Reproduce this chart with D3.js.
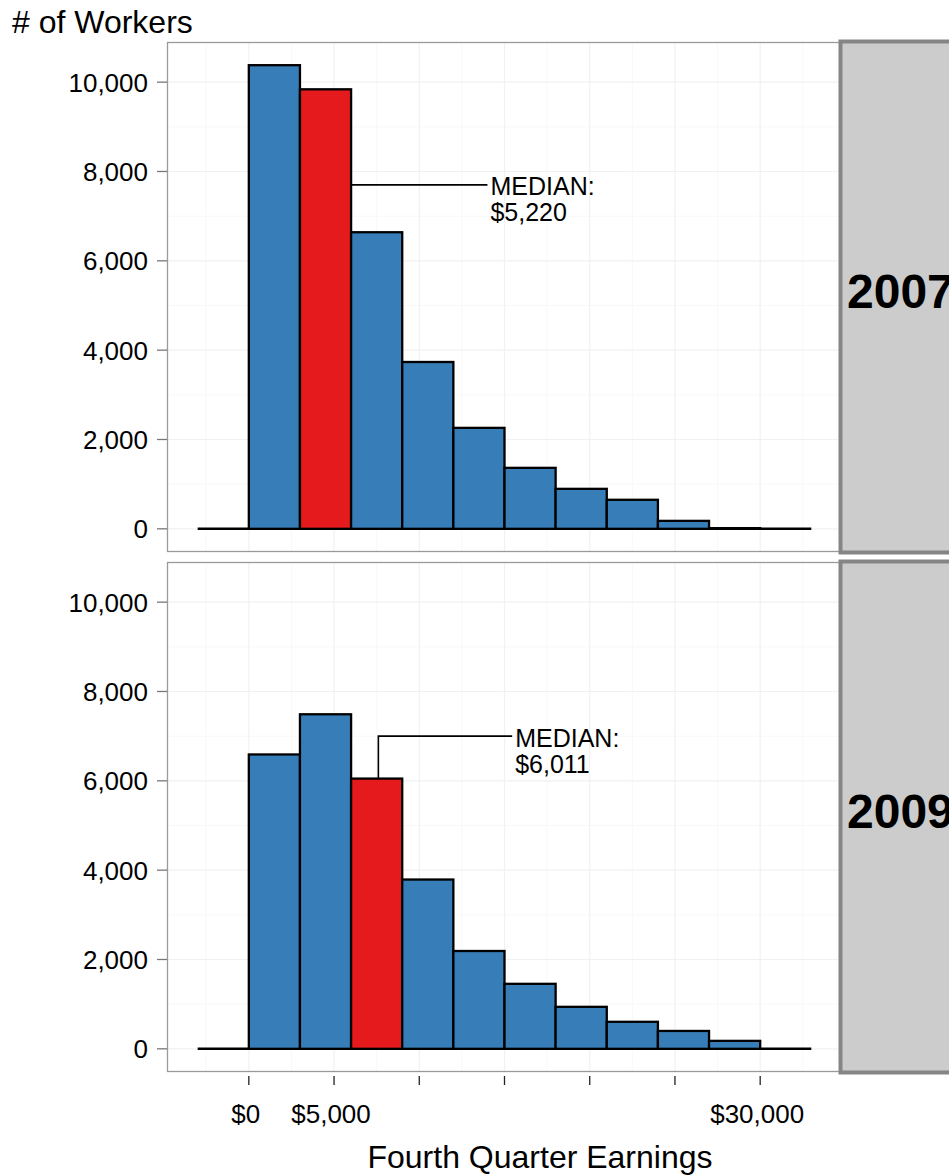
<!DOCTYPE html>
<html>
<head>
<meta charset="utf-8">
<script src="https://cdn.jsdelivr.net/npm/d3@7"></script>
<style>
  html, body { margin: 0; padding: 0; background: #fff; }
  svg { display: block; font-family: "Liberation Sans", Arial, sans-serif; }
</style>
</head>
<body>
<svg id="chart" width="949" height="1175"></svg>
<script>
// ---- data ----
const years = ["2007", "2009"];
const binStarts = [-3000, 0, 3000, 6000, 9000, 12000, 15000, 18000, 21000, 24000, 27000, 30000];
const binWidth = 3000;
const counts2007 = [0, 10380, 9840, 6640, 3735, 2260, 1365, 895, 650, 178, 15, 0];
const counts2009 = [0, 6590, 7490, 6050, 3790, 2190, 1455, 940, 605, 400, 178, 0];
const medianBin = [2, 3];
const medianLabels = ["$5,220", "$6,011"];
// annotation leader paths in data units [earnings, workers]
const leader2007 = [[6000, 7700], [14000, 7700]];
const leader2009 = [[7600, 6050], [7600, 7000], [15450, 7000]];
const xTicks = [0, 5000, 10000, 15000, 20000, 25000, 30000];
const xTickLabels = ["$0", "$5,000", "", "", "", "", "$30,000"];
const xMinor = [-2500, 2500, 7500, 12500, 17500, 22500, 27500, 32500];
const yTicks = [0, 2000, 4000, 6000, 8000, 10000];
const yMinor = [1000, 3000, 5000, 7000, 9000];

const series = [counts2007, counts2009];
const leaders = [leader2007, leader2009];

// ---- layout ----
const svg = d3.select("#chart");
const panelLeft = 167, panelRight = 842;
const panelTops = [42, 562], panelH = 510;
const blue = "#377EB8", red = "#E41A1C";

const x = d3.scaleLinear().domain([-4800, 34800]).range([panelLeft, panelRight]);
const yMax = d3.max(series.flat());
const yDomain = [-yMax * 0.05, yMax * 1.05];

series.forEach((counts, p) => {
  const top = panelTops[p];
  const y = d3.scaleLinear().domain(yDomain).range([top + panelH, top]);
  const g = svg.append("g");

  // background + grid
  g.append("rect").attr("x", panelLeft).attr("y", top).attr("width", panelRight - panelLeft).attr("height", panelH).attr("fill", "#fff");
  g.selectAll(".vminor").data(xMinor).join("line")
    .attr("x1", d => x(d)).attr("x2", d => x(d)).attr("y1", top).attr("y2", top + panelH)
    .attr("stroke", "#F8F8F8").attr("stroke-width", 1);
  g.selectAll(".hminor").data(yMinor).join("line")
    .attr("x1", panelLeft).attr("x2", panelRight).attr("y1", d => y(d)).attr("y2", d => y(d))
    .attr("stroke", "#F8F8F8").attr("stroke-width", 1);
  g.selectAll(".vmajor").data(xTicks).join("line")
    .attr("x1", d => x(d)).attr("x2", d => x(d)).attr("y1", top).attr("y2", top + panelH)
    .attr("stroke", "#F1F1F1").attr("stroke-width", 1.2);
  g.selectAll(".hmajor").data(yTicks).join("line")
    .attr("x1", panelLeft).attr("x2", panelRight).attr("y1", d => y(d)).attr("y2", d => y(d))
    .attr("stroke", "#F1F1F1").attr("stroke-width", 1.2);

  // baseline
  g.append("line")
    .attr("x1", x(binStarts[0])).attr("x2", x(binStarts[binStarts.length - 1] + binWidth))
    .attr("y1", y(0)).attr("y2", y(0))
    .attr("stroke", "#000").attr("stroke-width", 2.6);

  // bars
  const bars = binStarts.map((b, i) => ({ b, v: counts[i], i })).filter(d => d.v > 0);
  g.selectAll(".bar").data(bars).join("rect")
    .attr("x", d => x(d.b)).attr("width", d => x(d.b + binWidth) - x(d.b))
    .attr("y", d => y(d.v)).attr("height", d => y(0) - y(d.v))
    .attr("fill", d => d.i === medianBin[p] ? red : blue)
    .attr("stroke", "#000").attr("stroke-width", 2.3);

  // leader line + label
  const lead = leaders[p];
  g.append("path")
    .attr("d", d3.line().x(d => x(d[0])).y(d => y(d[1]))(lead))
    .attr("fill", "none").attr("stroke", "#000").attr("stroke-width", 1.6);
  const end = lead[lead.length - 1];
  const t = g.append("text").attr("x", x(end[0]) + 3).attr("y", y(end[1]) + 10.5)
    .attr("font-size", 25).attr("fill", "#000");
  t.append("tspan").attr("x", x(end[0]) + 3).text("MEDIAN:");
  t.append("tspan").attr("x", x(end[0]) + 3).attr("dy", 26).text(medianLabels[p]);

  // panel border
  g.append("rect").attr("x", panelLeft + 0.5).attr("y", top + 0.5).attr("width", panelRight - panelLeft - 1).attr("height", panelH - 1)
    .attr("fill", "none").attr("stroke", "#9A9A9A").attr("stroke-width", 1.3);

  // y axis
  const ya = g.append("g");
  ya.selectAll("line").data(yTicks).join("line")
    .attr("x1", panelLeft - 10).attr("x2", panelLeft).attr("y1", d => y(d)).attr("y2", d => y(d))
    .attr("stroke", "#777").attr("stroke-width", 1.3);
  ya.selectAll("text").data(yTicks).join("text")
    .attr("x", panelLeft - 19).attr("y", d => y(d) + 9.5)
    .attr("text-anchor", "end").attr("font-size", 26).attr("fill", "#000")
    .text(d => d3.format(",")(d));

  // strip
  g.append("rect").attr("x", 840.5).attr("y", top - 0.5).attr("width", 200).attr("height", panelH + 1)
    .attr("fill", "#CCCCCC").attr("stroke", "#858585").attr("stroke-width", 4);
  g.append("text").attr("x", 847).attr("y", top + panelH / 2 + 11)
    .attr("font-size", 48).attr("font-weight", "bold").attr("fill", "#000")
    .text(years[p]);
});

// x axis (bottom panel)
const axBottom = panelTops[1] + panelH;
const xa = svg.append("g");
xa.selectAll("line").data(xTicks).join("line")
  .attr("x1", d => x(d)).attr("x2", d => x(d)).attr("y1", axBottom + 4).attr("y2", axBottom + 13)
  .attr("stroke", "#222").attr("stroke-width", 1.3);
xa.selectAll("text").data(xTicks).join("text")
  .attr("x", d => x(d) - 3).attr("y", axBottom + 51)
  .attr("text-anchor", "middle").attr("font-size", 26).attr("fill", "#000")
  .text((d, i) => xTickLabels[i]);

// titles
svg.append("text").attr("x", 540).attr("y", 1168).attr("text-anchor", "middle")
  .attr("font-size", 32).attr("fill", "#000").text("Fourth Quarter Earnings");
svg.append("text").attr("x", 12).attr("y", 33)
  .attr("font-size", 32).attr("fill", "#000").text("# of Workers");
</script>
</body>
</html>
